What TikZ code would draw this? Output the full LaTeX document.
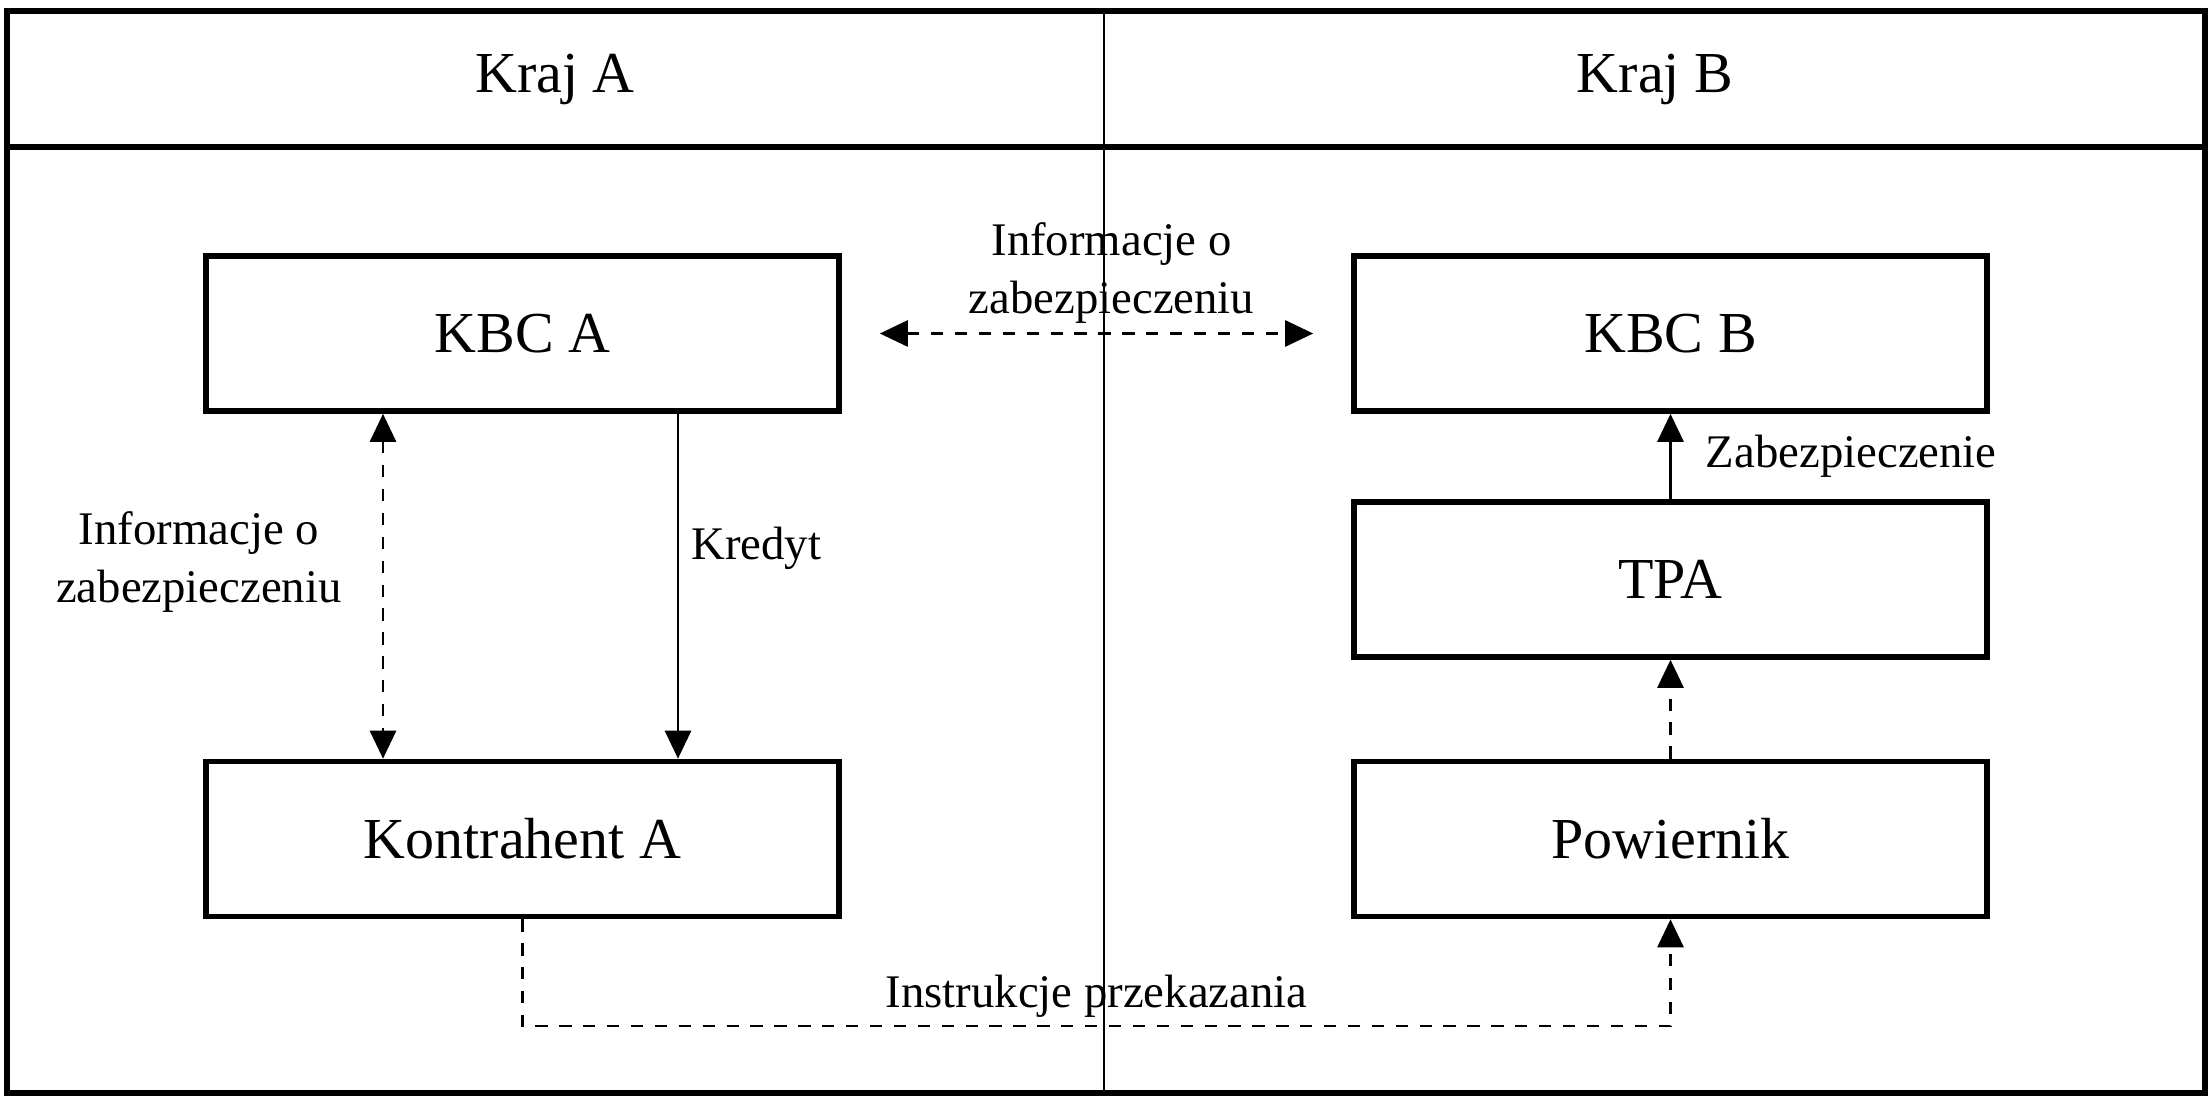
\documentclass[tikz,border=0pt]{standalone}
\usepackage{fontspec}
\setmainfont{Liberation Serif}
\usetikzlibrary{arrows.meta,positioning,calc}

\tikzset{
  box/.style={draw, line width=1.6pt, minimum width=6.33cm, minimum height=1.55cm,
    font=\fontsize{16.5}{20}\selectfont},
  head/.style={font=\fontsize{16.5}{20}\selectfont},
  lab/.style={font=\fontsize{13.3}{16.5}\selectfont, align=center, inner sep=2pt},
  solidline/.style={line width=0.8pt},
  infoline/.style={line width=0.8pt, dash pattern=on 3.5pt off 3.3pt},
}

\begin{document}
\begin{tikzpicture}[>={Triangle[length=0.28cm,width=0.26cm]}]

	\useasboundingbox (0,0) rectangle (22.11,10.99);

	%% frame with the two country columns
	\draw[line width=0.6pt] (11.04,0.06) -- (11.04,10.88); % divider
	\draw[line width=1.6pt] (0.07,0.06) rectangle (22.05,10.88);
	\draw[line width=1.6pt] (0.07,9.52) -- (22.05,9.52);
	\node[head] (krajA) at (5.55,10.2) {Kraj A};
	\node[head] (krajB) at (16.55,10.2) {Kraj B};

	%% boxes
	\node[box] (kbcA) at (5.225,7.655) {KBC A};
	\node[box] (kontA) at (5.225,2.6) {Kontrahent A};
	\node[box] (kbcB) at (16.705,7.655) {KBC B};
	\node[box] (tpa) at (16.705,5.195) {TPA};
	\node[box] (powier) at (16.705,2.6) {Powiernik};

	% x positions of the two arrows under KBC A, and the bottom run
	\coordinate (xInfo) at (3.83,0);
	\coordinate (xKred) at (6.78,0);
	\coordinate (low) at (0,0.73);

	%% arrows
	\draw[infoline,<->,shorten <=0.38cm,shorten >=0.38cm] (kbcA.east) --
		node[lab,above=0.02cm,xshift=0.15cm] {Informacje o\\zabezpieczeniu} (kbcB.west);
	\draw[infoline,<->] (kbcA.south -| xInfo) --
		node[lab,left=0.33cm,pos=0.43] {Informacje o\\zabezpieczeniu} (kontA.north -| xInfo);
	\draw[solidline,->] (kbcA.south -| xKred) --
		node[lab,right=0.05cm,pos=0.39] {Kredyt} (kontA.north -| xKred);
	\draw[solidline,->] (tpa.north) --
		node[lab,right=0.27cm] {Zabezpieczenie} (kbcB.south);
	\draw[infoline,->] (powier.north) -- (tpa.south);
	\draw[infoline,->] (kontA.south) -- (kontA.south |- low) --
		node[lab,above] {Instrukcje przekazania} (powier.south |- low) -- (powier.south);

\end{tikzpicture}
\end{document}
